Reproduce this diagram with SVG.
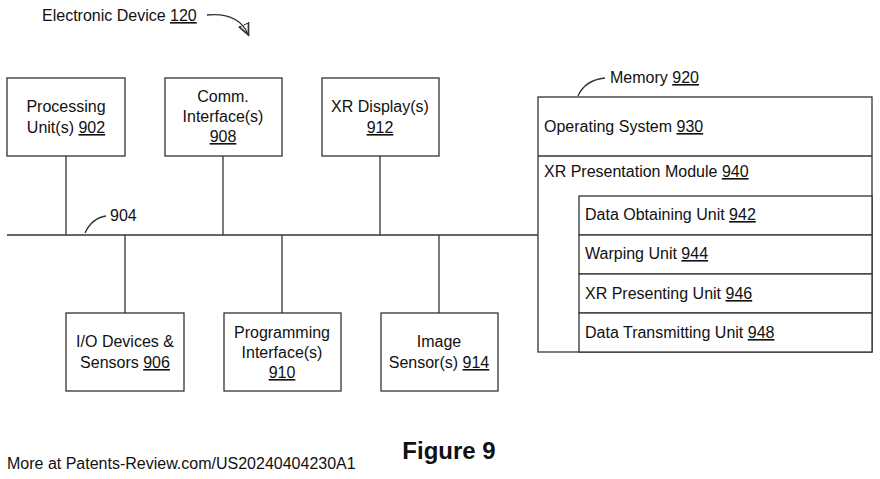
<svg xmlns="http://www.w3.org/2000/svg" width="880" height="479" viewBox="0 0 880 479">
<style>
rect{fill:#fff;stroke:#333;stroke-width:1.3}
text{font-family:"Liberation Sans",Arial,sans-serif;font-size:16px;fill:#111}
.c{text-anchor:middle}
line,path{stroke:#333;stroke-width:1.3;fill:none}
</style>
<defs><marker id="a" markerWidth="10" markerHeight="10" refX="8" refY="5" orient="auto"><path d="M0,1 L9,5 L0,9 z" fill="#111" stroke="none"/></marker></defs>
<rect width="880" height="479" style="fill:#fff;stroke:none"/>
<g id="connectors">
<line x1="7" y1="235" x2="538" y2="235"/>
<line x1="66" y1="156" x2="66" y2="235"/>
<line x1="223" y1="156" x2="223" y2="235"/>
<line x1="380" y1="156" x2="380" y2="235"/>
<line x1="125" y1="235" x2="125" y2="313"/>
<line x1="282" y1="235" x2="282" y2="313"/>
<line x1="439" y1="235" x2="439" y2="313"/>
<path d="M85,233 Q92,218 106,216"/>
<path d="M578,96 Q585,80 605,78"/>
<path d="M207,15 Q238,12 248,34" marker-end="url(#a)"/>
</g>
<text x="42" y="21">Electronic Device <tspan text-decoration="underline">120</tspan></text>
<text x="110" y="221">904</text>
<text x="610" y="83">Memory <tspan text-decoration="underline">920</tspan></text>
<g id="n902"><rect x="7" y="78" width="118" height="78"/><text class="c" x="66" y="112">Processing</text><text class="c" x="66" y="133">Unit(s) <tspan text-decoration="underline">902</tspan></text></g>
<g id="n908"><rect x="165" y="78" width="117" height="78"/><text class="c" x="223" y="102">Comm.</text><text class="c" x="223" y="122">Interface(s)</text><text class="c" x="223" y="142" text-decoration="underline">908</text></g>
<g id="n912"><rect x="322" y="78" width="117" height="78"/><text class="c" x="380" y="112">XR Display(s)</text><text class="c" x="380" y="133" text-decoration="underline">912</text></g>
<g id="n906"><rect x="66" y="313" width="118" height="78"/><text class="c" x="125" y="347">I/O Devices &amp;</text><text class="c" x="125" y="368">Sensors <tspan text-decoration="underline">906</tspan></text></g>
<g id="n910"><rect x="224" y="313" width="117" height="78"/><text class="c" x="282" y="338">Programming</text><text class="c" x="282" y="358">Interface(s)</text><text class="c" x="282" y="378" text-decoration="underline">910</text></g>
<g id="n914"><rect x="381" y="313" width="117" height="78"/><text class="c" x="439" y="347">Image</text><text class="c" x="439" y="368">Sensor(s) <tspan text-decoration="underline">914</tspan></text></g>
<g id="n920">
<rect x="538" y="97" width="334" height="255"/>
<line x1="538" y1="156" x2="872" y2="156"/>
<text x="544" y="132">Operating System <tspan text-decoration="underline">930</tspan></text>
<text x="544" y="177">XR Presentation Module <tspan text-decoration="underline">940</tspan></text>
<rect x="579" y="196" width="293" height="39"/><text x="585" y="220">Data Obtaining Unit <tspan text-decoration="underline">942</tspan></text>
<rect x="579" y="235" width="293" height="39"/><text x="585" y="259">Warping Unit <tspan text-decoration="underline">944</tspan></text>
<rect x="579" y="274" width="293" height="39"/><text x="585" y="299">XR Presenting Unit <tspan text-decoration="underline">946</tspan></text>
<rect x="579" y="313" width="293" height="39"/><text x="585" y="338">Data Transmitting Unit <tspan text-decoration="underline">948</tspan></text>
</g>
<text class="c" x="449" y="459" style="font-size:24px;font-weight:bold">Figure 9</text>
<text x="7" y="469" style="font-size:16px">More at Patents-Review.com/US20240404230A1</text>
</svg>
